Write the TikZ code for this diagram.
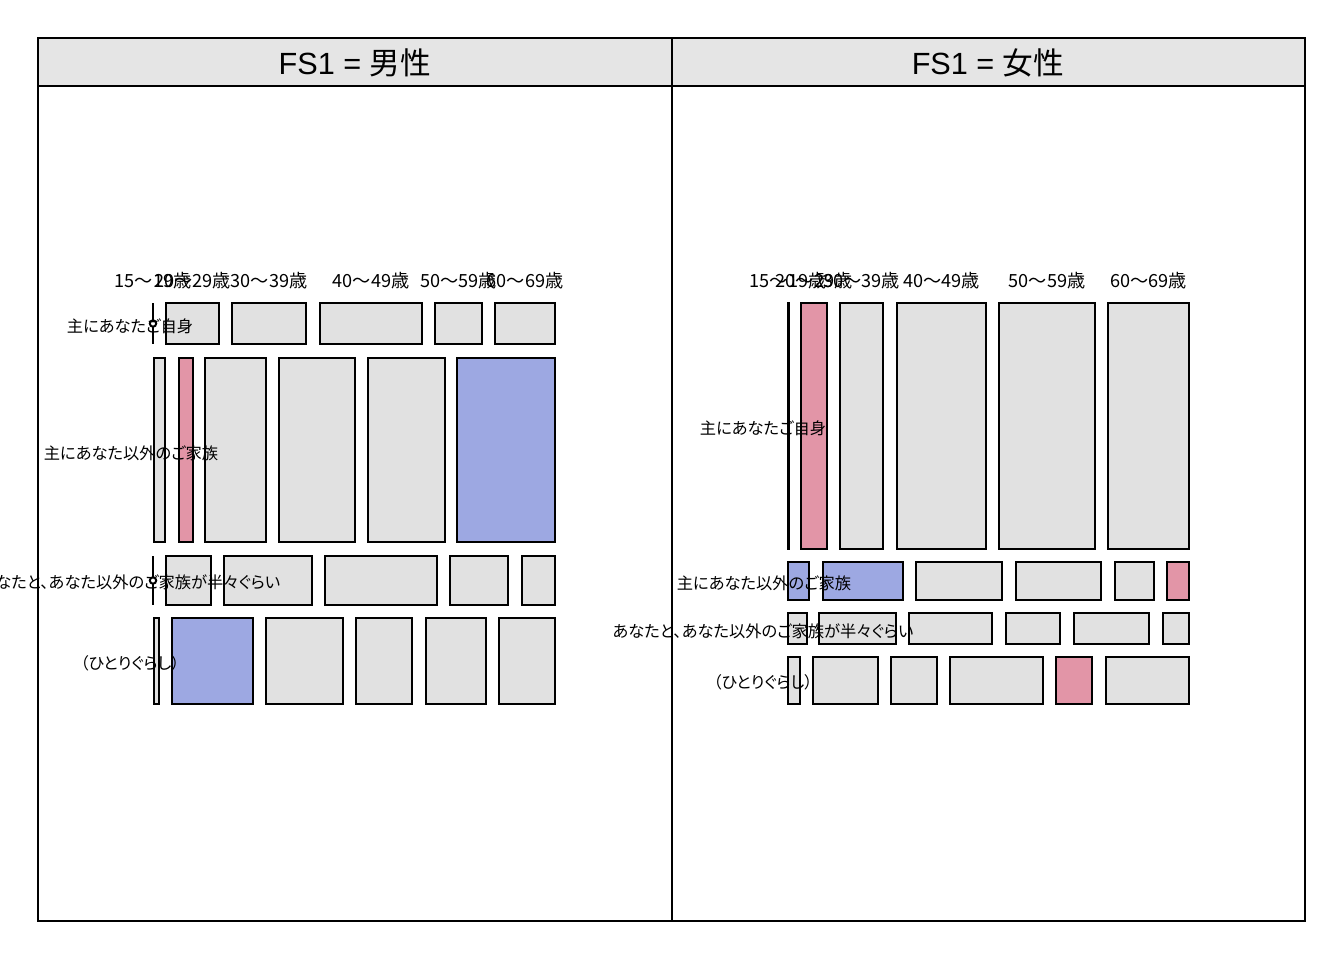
\documentclass[tikz,border=0pt]{standalone}
\usepackage{fontspec}
\setmainfont{Noto Sans CJK JP}[RawFeature=+palt]
\newfontfamily\latn{Liberation Sans}
\definecolor{tilegray}{HTML}{E1E1E1}
\definecolor{stripgray}{HTML}{E5E5E5}
\definecolor{tilepink}{HTML}{E295A7}
\definecolor{tileblue}{HTML}{9DA8E2}
\newcommand\mtile[5][tilegray]{\draw[tilebox,fill=#1] (#2,#3) rectangle (#4,#5);}
\newcommand\mzero[3]{\draw[zeroline] (#1,#2) -- (#1,#3); \draw[zeroline,fill=white] (#1,{(#2+#3)/2}) circle[radius=3.2];}
\begin{document}
\begin{tikzpicture}[x=0.75pt,y=-0.75pt,
  tilebox/.style={draw=black,line width=1.5pt},
  zeroline/.style={draw=black,line width=1.5pt},
  panelbox/.style={draw=black,line width=1.5pt},
  striptext/.style={font=\fontsize{23pt}{27pt}\selectfont,inner sep=0pt},
  collab/.style={font=\fontsize{13.6pt}{16pt}\selectfont,inner sep=0pt},
  rowlab/.style={font=\fontsize{12.2pt}{15pt}\selectfont,inner sep=0pt}]
\useasboundingbox (0,0) rectangle (1344,960);
\fill[white] (0,0) rectangle (1344,960);
% ---------- panels ----------
\draw[panelbox,fill=stripgray] (38,38) rectangle (672,86);
\draw[panelbox,fill=stripgray] (672,38) rectangle (1305,86);
\draw[panelbox] (38,86) rectangle (672,921);
\draw[panelbox] (672,86) rectangle (1305,921);
\node[striptext] (hm) at (355,63) {{\latn FS1 = }男性};
\node[striptext] (hf) at (988,63) {{\latn FS1 = }女性};
% ---------- left panel tiles ----------
% row 1
\mzero{153}{303}{344}
\mtile{166}{303}{219}{344}
\mtile{232}{303}{306}{344}
\mtile{320}{303}{422}{344}
\mtile{435}{303}{482}{344}
\mtile{495}{303}{555}{344}
% row 2
\mtile{154}{358}{165}{542}
\mtile[tilepink]{179}{358}{193}{542}
\mtile{205}{358}{266}{542}
\mtile{279}{358}{355}{542}
\mtile{368}{358}{445}{542}
\mtile[tileblue]{457}{358}{555}{542}
% row 3
\mzero{153}{556}{605}
\mtile{166}{556}{211}{605}
\mtile{224}{556}{312}{605}
\mtile{325}{556}{437}{605}
\mtile{450}{556}{508}{605}
\mtile{522}{556}{555}{605}
% row 4
\mtile{154}{618}{159}{704}
\mtile[tileblue]{172}{618}{253}{704}
\mtile{266}{618}{343}{704}
\mtile{356}{618}{412}{704}
\mtile{426}{618}{486}{704}
\mtile{499}{618}{555}{704}
% ---------- right panel tiles ----------
% row 1
\mtile{787.5}{303}{788.8}{549}
\mtile[tilepink]{801}{303}{827}{549}
\mtile{840}{303}{883}{549}
\mtile{897}{303}{986}{549}
\mtile{999}{303}{1095}{549}
\mtile{1108}{303}{1189}{549}
% row 2
\mtile[tileblue]{788}{562}{809}{600}
\mtile[tileblue]{823}{562}{903}{600}
\mtile{916}{562}{1002}{600}
\mtile{1016}{562}{1101}{600}
\mtile{1115}{562}{1154}{600}
\mtile[tilepink]{1167}{562}{1189}{600}
% row 3
\mtile{788}{613}{807}{644}
\mtile{819}{613}{896}{644}
\mtile{909}{613}{992}{644}
\mtile{1006}{613}{1060}{644}
\mtile{1074}{613}{1149}{644}
\mtile{1163}{613}{1189}{644}
% row 4
\mtile{788}{657}{800}{704}
\mtile{813}{657}{878}{704}
\mtile{891}{657}{937}{704}
\mtile{950}{657}{1043}{704}
\mtile[tilepink]{1056}{657}{1092}{704}
\mtile{1106}{657}{1189}{704}
% ---------- left labels ----------
\node[collab] (lc1) at (153,281) {15～19歳};
\node[collab] (lc2) at (192.5,281) {20～29歳};
\node[collab] (lc3) at (269,281) {30～39歳};
\node[collab] (lc4) at (371,281) {40～49歳};
\node[collab] (lc5) at (458.5,281) {50～59歳};
\node[collab] (lc6) at (525,281) {60～69歳};
\node[rowlab] (lr1) at (130,326) {主にあなたご自身};
\node[rowlab] (lr2) at (131,453) {主にあなた以外のご家族};
\node[rowlab] (lr3) at (130,582) {あなたと、あなた以外のご家族が半々ぐらい};
\node[rowlab] (lr4) at (130,663) {（ひとりぐらし）};
% ---------- right labels ----------
\node[collab] (rc1) at (788,281) {15～19歳};
\node[collab] (rc2) at (814,281) {20～29歳};
\node[collab] (rc3) at (861.5,281) {30～39歳};
\node[collab] (rc4) at (941.5,281) {40～49歳};
\node[collab] (rc5) at (1047,281) {50～59歳};
\node[collab] (rc6) at (1148.5,281) {60～69歳};
\node[rowlab] (rr1) at (763,428) {主にあなたご自身};
\node[rowlab] (rr2) at (764,583) {主にあなた以外のご家族};
\node[rowlab] (rr3) at (763,631) {あなたと、あなた以外のご家族が半々ぐらい};
\node[rowlab] (rr4) at (763,682) {（ひとりぐらし）};
\end{tikzpicture}
\end{document}
